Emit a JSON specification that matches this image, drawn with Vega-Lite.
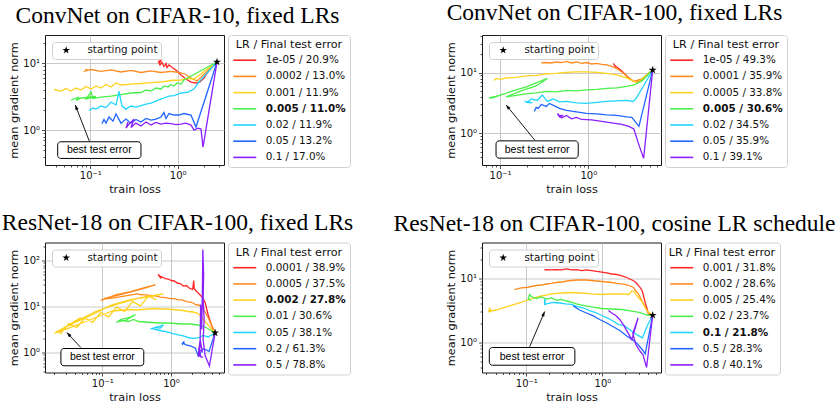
{
"$schema": "https://vega.github.io/schema/vega-lite/v6.json",
"background": "white",
"padding": {"left": 1, "top": 0, "right": 0, "bottom": 0},
"datasets": {
"p1": [
{"s":0,"x":2.82,"y":10.46},{"s":0,"x":2.54,"y":9.11},{"s":0,"x":2.22,"y":7.40},{"s":0,"x":2.00,"y":6.02},{"s":0,"x":1.80,"y":5.24},{"s":0,"x":1.62,"y":5.07},{"s":0,"x":1.42,"y":5.24},{"s":0,"x":1.245,"y":5.82},{"s":0,"x":1.091,"y":6.68},{"s":0,"x":0.982,"y":7.67},{"s":0,"x":0.884,"y":8.50},{"s":0,"x":0.838,"y":8.95},{"s":0,"x":0.795,"y":9.43},{"s":0,"x":0.754,"y":8.65},{"s":0,"x":0.735,"y":9.93},{"s":0,"x":0.697,"y":8.95},{"s":0,"x":0.661,"y":10.28},{"s":0,"x":0.627,"y":9.43},{"s":0,"x":0.603,"y":10.64},{"s":0,"x":0.644,"y":11.0},{"s":0,"x":0.62,"y":10.1},
{"s":1,"x":2.82,"y":10.46},{"s":1,"x":1.66,"y":5.43},{"s":1,"x":1.42,"y":6.02},{"s":1,"x":1.21,"y":6.91},{"s":1,"x":1.035,"y":7.28},{"s":1,"x":0.838,"y":7.54},{"s":1,"x":0.644,"y":7.28},{"s":1,"x":0.495,"y":7.67},{"s":1,"x":0.380,"y":7.28},{"s":1,"x":0.292,"y":7.80},{"s":1,"x":0.2245,"y":7.40},{"s":1,"x":0.1725,"y":7.94},{"s":1,"x":0.1326,"y":7.54},{"s":1,"x":0.1019,"y":8.07},{"s":1,"x":0.087,"y":7.67},{"s":1,"x":0.0917,"y":8.21},
{"s":2,"x":2.82,"y":10.46},{"s":2,"x":1.54,"y":5.82},{"s":2,"x":1.31,"y":5.92},{"s":2,"x":1.091,"y":5.62},{"s":2,"x":0.838,"y":5.52},{"s":2,"x":0.644,"y":5.24},{"s":2,"x":0.495,"y":5.15},{"s":2,"x":0.380,"y":4.98},{"s":2,"x":0.292,"y":4.89},{"s":2,"x":0.2245,"y":4.73},{"s":2,"x":0.1968,"y":5.07},{"s":2,"x":0.1725,"y":4.41},{"s":2,"x":0.1512,"y":4.81},{"s":2,"x":0.1326,"y":4.26},{"s":2,"x":0.1162,"y":4.57},{"s":2,"x":0.1019,"y":4.12},{"s":2,"x":0.0893,"y":4.49},{"s":2,"x":0.0782,"y":3.98},{"s":2,"x":0.0686,"y":4.26},{"s":2,"x":0.0601,"y":3.84},{"s":2,"x":0.0527,"y":4.19},{"s":2,"x":0.0462,"y":3.84},{"s":2,"x":0.0405,"y":3.98},{"s":2,"x":0.0384,"y":4.05},
{"s":3,"x":2.82,"y":10.46},{"s":3,"x":1.18,"y":5.62},{"s":3,"x":1.091,"y":4.89},{"s":3,"x":0.982,"y":5.07},{"s":3,"x":0.907,"y":4.57},{"s":3,"x":0.838,"y":4.81},{"s":3,"x":0.774,"y":4.41},{"s":3,"x":0.697,"y":4.57},{"s":3,"x":0.644,"y":4.12},{"s":3,"x":0.5646,"y":4.26},{"s":3,"x":0.495,"y":3.84},{"s":3,"x":0.434,"y":3.98},{"s":3,"x":0.380,"y":3.65},{"s":3,"x":0.292,"y":3.59},{"s":3,"x":0.2245,"y":3.40},{"s":3,"x":0.1725,"y":3.23},{"s":3,"x":0.1326,"y":3.12},{"s":3,"x":0.107,"y":2.96},{"s":3,"x":0.1019,"y":3.71},{"s":3,"x":0.0893,"y":2.92},{"s":3,"x":0.1162,"y":3.18},{"s":3,"x":0.0782,"y":3.02},{"s":3,"x":0.0686,"y":2.77},{"s":3,"x":0.0743,"y":3.12},{"s":3,"x":0.0601,"y":2.82},
{"s":4,"x":2.82,"y":10.46},{"s":4,"x":1.75,"y":5.24},{"s":4,"x":1.54,"y":4.12},{"s":4,"x":1.31,"y":3.71},{"s":4,"x":1.091,"y":3.59},{"s":4,"x":1.008,"y":3.46},{"s":4,"x":0.907,"y":3.29},{"s":4,"x":0.795,"y":3.23},{"s":4,"x":0.697,"y":3.02},{"s":4,"x":0.644,"y":2.92},{"s":4,"x":0.5646,"y":2.72},{"s":4,"x":0.495,"y":2.54},{"s":4,"x":0.434,"y":2.45},{"s":4,"x":0.380,"y":2.33},{"s":4,"x":0.333,"y":2.21},{"s":4,"x":0.292,"y":2.29},{"s":4,"x":0.2561,"y":2.06},{"s":4,"x":0.2307,"y":2.29},{"s":4,"x":0.2130,"y":3.78},{"s":4,"x":0.1968,"y":2.37},{"s":4,"x":0.1725,"y":2.63},{"s":4,"x":0.1512,"y":2.17},{"s":4,"x":0.1326,"y":2.29},{"s":4,"x":0.1162,"y":2.06},{"s":4,"x":0.107,"y":2.14},{"s":4,"x":0.0966,"y":1.96},
{"s":5,"x":2.82,"y":10.46},{"s":5,"x":1.62,"y":1.11},{"s":5,"x":1.42,"y":1.68},{"s":5,"x":1.18,"y":1.77},{"s":5,"x":1.035,"y":1.68},{"s":5,"x":0.907,"y":1.68},{"s":5,"x":0.795,"y":1.77},{"s":5,"x":0.735,"y":1.49},{"s":5,"x":0.697,"y":1.83},{"s":5,"x":0.644,"y":1.57},{"s":5,"x":0.5646,"y":1.46},{"s":5,"x":0.495,"y":1.41},{"s":5,"x":0.434,"y":1.49},{"s":5,"x":0.380,"y":1.32},{"s":5,"x":0.333,"y":1.44},{"s":5,"x":0.292,"y":1.27},{"s":5,"x":0.2561,"y":1.46},{"s":5,"x":0.2245,"y":1.27},{"s":5,"x":0.1968,"y":1.74},{"s":5,"x":0.182,"y":1.36},{"s":5,"x":0.1637,"y":1.57},{"s":5,"x":0.1512,"y":1.27},{"s":5,"x":0.1435,"y":1.44},{"s":5,"x":0.136,"y":1.25},
{"s":6,"x":2.82,"y":10.46},{"s":6,"x":1.95,"y":0.556},{"s":6,"x":1.848,"y":1.035},{"s":6,"x":1.71,"y":1.07},{"s":6,"x":1.54,"y":1.0},{"s":6,"x":1.42,"y":1.19},{"s":6,"x":1.245,"y":1.27},{"s":6,"x":1.091,"y":1.23},{"s":6,"x":0.956,"y":1.21},{"s":6,"x":0.838,"y":1.25},{"s":6,"x":0.735,"y":1.27},{"s":6,"x":0.644,"y":1.23},{"s":6,"x":0.5646,"y":1.30},{"s":6,"x":0.495,"y":1.19},{"s":6,"x":0.434,"y":1.32},{"s":6,"x":0.380,"y":1.15},{"s":6,"x":0.333,"y":1.27},{"s":6,"x":0.292,"y":1.09},{"s":6,"x":0.316,"y":1.46},{"s":6,"x":0.277,"y":1.23},{"s":6,"x":0.2561,"y":1.07},{"s":6,"x":0.27,"y":1.32}
],
"p2": [
{"s":0,"x":5.37,"y":11.08},{"s":0,"x":4.62,"y":9.17},{"s":0,"x":4.05,"y":7.58},{"s":0,"x":3.65,"y":7.03},{"s":0,"x":3.29,"y":7.16},{"s":0,"x":2.96,"y":7.87},{"s":0,"x":2.66,"y":9.17},{"s":0,"x":2.40,"y":10.67},{"s":0,"x":2.22,"y":11.7},{"s":0,"x":2.10,"y":12.4},{"s":0,"x":1.995,"y":13.1},{"s":0,"x":2.05,"y":12.2},{"s":0,"x":1.94,"y":13.9},{"s":0,"x":2.02,"y":12.65},{"s":0,"x":1.92,"y":14.2},
{"s":1,"x":5.37,"y":11.08},{"s":1,"x":4.05,"y":7.87},{"s":1,"x":3.29,"y":7.16},{"s":1,"x":2.82,"y":8.49},{"s":1,"x":2.40,"y":10.27},{"s":1,"x":2.10,"y":11.7},{"s":1,"x":1.844,"y":12.65},{"s":1,"x":1.617,"y":13.4},{"s":1,"x":1.418,"y":13.65},{"s":1,"x":1.243,"y":14.2},{"s":1,"x":1.09,"y":13.9},{"s":1,"x":0.956,"y":14.7},{"s":1,"x":0.839,"y":14.2},{"s":1,"x":0.736,"y":15.0},{"s":1,"x":0.645,"y":14.45},{"s":1,"x":0.566,"y":15.3},{"s":1,"x":0.496,"y":14.7},{"s":1,"x":0.435,"y":15.0},{"s":1,"x":0.382,"y":14.45},{"s":1,"x":0.335,"y":14.7},{"s":1,"x":0.293,"y":14.45},
{"s":2,"x":5.37,"y":11.08},{"s":2,"x":3.65,"y":6.90},{"s":2,"x":3.20,"y":7.30},{"s":2,"x":2.734,"y":8.18},{"s":2,"x":2.10,"y":9.17},{"s":2,"x":1.617,"y":9.70},{"s":2,"x":1.243,"y":10.08},{"s":2,"x":0.956,"y":10.27},{"s":2,"x":0.736,"y":10.27},{"s":2,"x":0.566,"y":10.08},{"s":2,"x":0.435,"y":9.70},{"s":2,"x":0.335,"y":9.52},{"s":2,"x":0.257,"y":8.99},{"s":2,"x":0.198,"y":8.82},{"s":2,"x":0.152,"y":8.34},{"s":2,"x":0.117,"y":8.18},{"s":2,"x":0.1026,"y":7.73},{"s":2,"x":0.09,"y":8.03},{"s":2,"x":0.0855,"y":7.44},
{"s":3,"x":5.37,"y":11.08},{"s":3,"x":4.05,"y":7.30},{"s":3,"x":3.29,"y":6.27},{"s":3,"x":2.734,"y":5.93},{"s":3,"x":2.10,"y":5.60},{"s":3,"x":1.617,"y":5.49},{"s":3,"x":1.243,"y":5.29},{"s":3,"x":0.956,"y":5.19},{"s":3,"x":0.736,"y":4.99},{"s":3,"x":0.566,"y":5.09},{"s":3,"x":0.435,"y":4.81},{"s":3,"x":0.335,"y":4.90},{"s":3,"x":0.257,"y":4.63},{"s":3,"x":0.198,"y":4.46},{"s":3,"x":0.152,"y":4.21},{"s":3,"x":0.117,"y":3.98},{"s":3,"x":0.1736,"y":4.99},{"s":3,"x":0.257,"y":6.04},{"s":3,"x":0.3435,"y":8.03},{"s":3,"x":0.293,"y":7.30},{"s":3,"x":0.198,"y":5.81},{"s":3,"x":0.1335,"y":4.90},{"s":3,"x":0.1026,"y":4.29},{"s":3,"x":0.0789,"y":3.76},{"s":3,"x":0.0948,"y":4.13},{"s":3,"x":0.0749,"y":3.83},
{"s":4,"x":5.37,"y":11.08},{"s":4,"x":4.16,"y":5.81},{"s":4,"x":3.46,"y":3.69},{"s":4,"x":3.20,"y":3.35},{"s":4,"x":2.734,"y":3.48},{"s":4,"x":2.10,"y":3.42},{"s":4,"x":1.617,"y":3.35},{"s":4,"x":1.243,"y":3.23},{"s":4,"x":0.956,"y":3.11},{"s":4,"x":0.736,"y":3.17},{"s":4,"x":0.566,"y":3.35},{"s":4,"x":0.471,"y":3.29},{"s":4,"x":0.402,"y":3.69},{"s":4,"x":0.343,"y":3.35},{"s":4,"x":0.301,"y":4.29},{"s":4,"x":0.264,"y":3.48},{"s":4,"x":0.226,"y":3.69},{"s":4,"x":0.203,"y":3.23},{"s":4,"x":0.232,"y":3.17},{"s":4,"x":0.190,"y":3.35},
{"s":5,"x":5.37,"y":11.08},{"s":5,"x":3.75,"y":1.30},{"s":5,"x":3.117,"y":1.83},{"s":5,"x":2.734,"y":1.86},{"s":5,"x":2.10,"y":1.97},{"s":5,"x":1.617,"y":2.01},{"s":5,"x":1.243,"y":2.09},{"s":5,"x":0.956,"y":2.13},{"s":5,"x":0.736,"y":2.25},{"s":5,"x":0.566,"y":2.38},{"s":5,"x":0.471,"y":2.57},{"s":5,"x":0.413,"y":2.83},{"s":5,"x":0.362,"y":3.11},{"s":5,"x":0.335,"y":2.77},{"s":5,"x":0.293,"y":2.99},{"s":5,"x":0.271,"y":2.57},{"s":5,"x":0.257,"y":2.67},{"s":5,"x":0.244,"y":2.30},
{"s":6,"x":5.37,"y":11.08},{"s":6,"x":4.24,"y":0.386},{"s":6,"x":3.65,"y":0.722},{"s":6,"x":3.29,"y":1.18},{"s":6,"x":2.88,"y":1.30},{"s":6,"x":2.40,"y":1.40},{"s":6,"x":1.844,"y":1.48},{"s":6,"x":1.418,"y":1.57},{"s":6,"x":1.09,"y":1.66},{"s":6,"x":0.839,"y":1.69},{"s":6,"x":0.736,"y":1.83},{"s":6,"x":0.645,"y":1.73},{"s":6,"x":0.566,"y":1.97},{"s":6,"x":0.496,"y":1.79},{"s":6,"x":0.447,"y":2.13},{"s":6,"x":0.471,"y":1.86},{"s":6,"x":0.52,"y":1.97},{"s":6,"x":0.46,"y":1.93}
],
"p3": [
{"s":0,"x":4.39,"y":2.72},{"s":0,"x":3.90,"y":3.92},{"s":0,"x":3.47,"y":6.80},{"s":0,"x":3.14,"y":12.4},{"s":0,"x":2.84,"y":16.3},{"s":0,"x":2.57,"y":19.0},{"s":0,"x":2.33,"y":22.1},{"s":0,"x":2.18,"y":25.0},{"s":0,"x":2.14,"y":37.3},{"s":0,"x":2.07,"y":23.8},{"s":0,"x":1.84,"y":25.6},{"s":0,"x":1.67,"y":29.0},{"s":0,"x":1.51,"y":28.3},{"s":0,"x":1.364,"y":32.1},{"s":0,"x":1.234,"y":32.9},{"s":0,"x":1.116,"y":36.4},{"s":0,"x":1.01,"y":37.3},{"s":0,"x":0.914,"y":40.2},{"s":0,"x":0.827,"y":41.2},{"s":0,"x":0.748,"y":44.4},{"s":0,"x":0.700,"y":45.6},{"s":0,"x":0.654,"y":49.1},{"s":0,"x":0.723,"y":41.2},{"s":0,"x":0.677,"y":47.9},{"s":0,"x":0.644,"y":50.4},
{"s":1,"x":4.39,"y":2.72},{"s":1,"x":3.47,"y":5.85},{"s":1,"x":2.99,"y":8.74},{"s":1,"x":2.75,"y":9.90},{"s":1,"x":2.49,"y":11.2},{"s":1,"x":2.33,"y":10.9},{"s":1,"x":2.10,"y":12.1},{"s":1,"x":1.905,"y":12.7},{"s":1,"x":1.67,"y":13.0},{"s":1,"x":1.46,"y":14.1},{"s":1,"x":1.28,"y":14.1},{"s":1,"x":1.116,"y":15.1},{"s":1,"x":0.977,"y":15.1},{"s":1,"x":0.827,"y":15.9},{"s":1,"x":0.700,"y":16.3},{"s":1,"x":0.592,"y":17.2},{"s":1,"x":0.501,"y":17.6},{"s":1,"x":0.424,"y":18.1},{"s":1,"x":0.359,"y":18.5},{"s":1,"x":0.3215,"y":19.0},{"s":1,"x":0.2176,"y":17.2},{"s":1,"x":0.1559,"y":15.9},{"s":1,"x":0.1116,"y":14.8},{"s":1,"x":0.100,"y":14.1},{"s":1,"x":0.1559,"y":18.1},{"s":1,"x":0.2571,"y":21.5},{"s":1,"x":0.4242,"y":26.3},{"s":1,"x":0.5922,"y":30.1},{"s":1,"x":0.359,"y":23.8},{"s":1,"x":0.1842,"y":18.5},{"s":1,"x":0.1116,"y":15.5},{"s":1,"x":0.0945,"y":13.7},
{"s":2,"x":4.39,"y":2.72},{"s":2,"x":3.14,"y":4.79},{"s":2,"x":2.75,"y":6.15},{"s":2,"x":2.41,"y":7.33},{"s":2,"x":2.10,"y":7.71},{"s":2,"x":1.78,"y":7.90},{"s":2,"x":1.51,"y":8.31},{"s":2,"x":1.28,"y":8.52},{"s":2,"x":1.044,"y":8.74},{"s":2,"x":0.855,"y":8.96},{"s":2,"x":0.700,"y":8.96},{"s":2,"x":0.573,"y":9.19},{"s":2,"x":0.469,"y":8.96},{"s":2,"x":0.384,"y":8.74},{"s":2,"x":0.314,"y":8.52},{"s":2,"x":0.257,"y":8.74},{"s":2,"x":0.210,"y":8.52},{"s":2,"x":0.172,"y":8.31},{"s":2,"x":0.141,"y":8.10},{"s":2,"x":0.0945,"y":6.47},{"s":2,"x":0.0573,"y":4.79},{"s":2,"x":0.0347,"y":3.55},{"s":2,"x":0.0211,"y":2.76},{"s":2,"x":0.0199,"y":2.63},{"s":2,"x":0.0347,"y":4.12},{"s":2,"x":0.0677,"y":6.47},{"s":2,"x":0.1319,"y":10.7},{"s":2,"x":0.2571,"y":14.4},{"s":2,"x":0.501,"y":16.7},{"s":2,"x":0.773,"y":19.0},{"s":2,"x":0.359,"y":15.9},{"s":2,"x":0.1559,"y":11.2},{"s":2,"x":0.0799,"y":7.90},{"s":2,"x":0.041,"y":4.79},{"s":2,"x":0.0249,"y":3.21},{"s":2,"x":0.0485,"y":5.85},{"s":2,"x":0.0294,"y":3.64},{"s":2,"x":0.0218,"y":2.90},{"s":2,"x":0.0249,"y":2.65},{"s":2,"x":0.0325,"y":4.34},{"s":2,"x":0.0424,"y":3.50},{"s":2,"x":0.0554,"y":5.68},{"s":2,"x":0.0723,"y":4.60},{"s":2,"x":0.0945,"y":7.48},{"s":2,"x":0.1234,"y":6.06},{"s":2,"x":0.1611,"y":9.85},{"s":2,"x":0.2104,"y":7.98},{"s":2,"x":0.2749,"y":13.0},{"s":2,"x":0.359,"y":10.5},{"s":2,"x":0.469,"y":17.1},{"s":2,"x":0.612,"y":14.1},
{"s":3,"x":4.39,"y":2.72},{"s":3,"x":3.14,"y":3.64},{"s":3,"x":2.49,"y":4.02},{"s":3,"x":1.905,"y":4.23},{"s":3,"x":1.46,"y":4.23},{"s":3,"x":1.154,"y":4.34},{"s":3,"x":0.914,"y":4.45},{"s":3,"x":0.700,"y":4.45},{"s":3,"x":0.536,"y":4.56},{"s":3,"x":0.424,"y":4.67},{"s":3,"x":0.336,"y":4.79},{"s":3,"x":0.284,"y":5.30},{"s":3,"x":0.241,"y":4.79},{"s":3,"x":0.197,"y":5.04},{"s":3,"x":0.161,"y":4.56},{"s":3,"x":0.1842,"y":5.30},{"s":3,"x":0.233,"y":5.71},{"s":3,"x":0.284,"y":6.47},{"s":3,"x":0.3039,"y":6.70},{"s":3,"x":0.257,"y":5.85},{"s":3,"x":0.2176,"y":5.04},{"s":3,"x":0.172,"y":4.79},{"s":3,"x":0.161,"y":4.67},
{"s":4,"x":4.39,"y":2.72},{"s":4,"x":3.47,"y":2.21},{"s":4,"x":2.94,"y":2.38},{"s":4,"x":2.49,"y":2.10},{"s":4,"x":2.10,"y":2.05},{"s":4,"x":1.78,"y":2.15},{"s":4,"x":1.51,"y":2.32},{"s":4,"x":1.28,"y":2.44},{"s":4,"x":1.044,"y":2.63},{"s":4,"x":0.855,"y":2.90},{"s":4,"x":0.748,"y":2.98},{"s":4,"x":0.654,"y":3.13},{"s":4,"x":0.592,"y":3.21},{"s":4,"x":0.536,"y":3.38},{"s":4,"x":0.654,"y":3.73},{"s":4,"x":0.773,"y":4.02},{"s":4,"x":0.700,"y":3.46},{"s":4,"x":0.592,"y":3.55},{"s":4,"x":0.501,"y":3.29},
{"s":5,"x":4.39,"y":2.72},{"s":5,"x":3.59,"y":1.07},{"s":5,"x":2.94,"y":1.24},{"s":5,"x":2.51,"y":0.852},{"s":5,"x":2.25,"y":1.27},{"s":5,"x":1.905,"y":1.41},{"s":5,"x":1.612,"y":1.51},{"s":5,"x":1.51,"y":1.67},{"s":5,"x":1.44,"y":1.55},{"s":5,"x":1.56,"y":1.76},{"s":5,"x":1.46,"y":1.48},
{"s":6,"x":4.39,"y":2.72},{"s":6,"x":3.63,"y":0.516},{"s":6,"x":3.14,"y":0.874},{"s":6,"x":2.94,"y":1.95},{"s":6,"x":3.04,"y":5.30},{"s":6,"x":2.94,"y":14.4},{"s":6,"x":2.99,"y":50.4},{"s":6,"x":2.91,"y":176},{"s":6,"x":2.87,"y":23.8},{"s":6,"x":2.80,"y":3.21},{"s":6,"x":2.70,"y":11.2},{"s":6,"x":2.66,"y":1.51},{"s":6,"x":2.57,"y":0.918},{"s":6,"x":2.75,"y":0.791},{"s":6,"x":2.53,"y":1.18},{"s":6,"x":2.84,"y":1.07},{"s":6,"x":2.66,"y":1.95},{"s":6,"x":2.49,"y":0.874},{"s":6,"x":2.94,"y":0.791}
],
"p4": [
{"s":0,"x":4.58,"y":2.67},{"s":0,"x":4.05,"y":2.77},{"s":0,"x":3.65,"y":4.22},{"s":0,"x":3.36,"y":6.27},{"s":0,"x":3.14,"y":7.23},{"s":0,"x":2.80,"y":8.51},{"s":0,"x":2.57,"y":9.21},{"s":0,"x":2.29,"y":9.82},{"s":0,"x":2.094,"y":10.37},{"s":0,"x":1.799,"y":10.94},{"s":0,"x":1.545,"y":11.55},{"s":0,"x":1.327,"y":11.76},{"s":0,"x":1.14,"y":12.2},{"s":0,"x":0.979,"y":12.6},{"s":0,"x":0.841,"y":12.9},{"s":0,"x":0.722,"y":13.3},{"s":0,"x":0.620,"y":13.6},{"s":0,"x":0.533,"y":13.3},{"s":0,"x":0.4575,"y":13.8},{"s":0,"x":0.393,"y":13.6},{"s":0,"x":0.3376,"y":14.1},{"s":0,"x":0.290,"y":13.6},{"s":0,"x":0.249,"y":13.8},{"s":0,"x":0.214,"y":13.6},{"s":0,"x":0.1837,"y":13.8},{"s":0,"x":0.173,"y":13.6},
{"s":1,"x":4.58,"y":2.67},{"s":1,"x":4.05,"y":2.84},{"s":1,"x":3.48,"y":3.97},{"s":1,"x":2.99,"y":5.68},{"s":1,"x":2.67,"y":6.73},{"s":1,"x":2.57,"y":7.23},{"s":1,"x":2.16,"y":7.91},{"s":1,"x":1.89,"y":8.15},{"s":1,"x":1.545,"y":8.36},{"s":1,"x":1.327,"y":8.66},{"s":1,"x":1.14,"y":8.81},{"s":1,"x":0.979,"y":8.98},{"s":1,"x":0.841,"y":9.14},{"s":1,"x":0.722,"y":9.31},{"s":1,"x":0.620,"y":9.48},{"s":1,"x":0.533,"y":9.48},{"s":1,"x":0.4575,"y":9.48},{"s":1,"x":0.393,"y":9.31},{"s":1,"x":0.3376,"y":9.14},{"s":1,"x":0.290,"y":8.81},{"s":1,"x":0.249,"y":8.66},{"s":1,"x":0.214,"y":8.36},{"s":1,"x":0.1837,"y":8.20},{"s":1,"x":0.1578,"y":7.91},{"s":1,"x":0.1355,"y":7.77},{"s":1,"x":0.1164,"y":7.50},{"s":1,"x":0.100,"y":7.23},{"s":1,"x":0.0859,"y":7.11},{"s":1,"x":0.0738,"y":6.85},{"s":1,"x":0.070,"y":6.73},
{"s":2,"x":4.58,"y":2.67},{"s":2,"x":3.85,"y":3.13},{"s":2,"x":3.305,"y":4.37},{"s":2,"x":2.839,"y":5.37},{"s":2,"x":2.63,"y":6.15},{"s":2,"x":2.438,"y":6.43},{"s":2,"x":2.23,"y":5.62},{"s":2,"x":1.799,"y":5.73},{"s":2,"x":1.327,"y":5.73},{"s":2,"x":0.979,"y":5.62},{"s":2,"x":0.722,"y":5.73},{"s":2,"x":0.533,"y":5.93},{"s":2,"x":0.393,"y":6.04},{"s":2,"x":0.290,"y":5.93},{"s":2,"x":0.214,"y":5.73},{"s":2,"x":0.1837,"y":5.52},{"s":2,"x":0.1578,"y":5.33},{"s":2,"x":0.1355,"y":5.05},{"s":2,"x":0.1164,"y":4.79},{"s":2,"x":0.100,"y":4.53},{"s":2,"x":0.0859,"y":4.22},{"s":2,"x":0.0738,"y":4.00},{"s":2,"x":0.0634,"y":3.79},{"s":2,"x":0.0544,"y":3.59},{"s":2,"x":0.0468,"y":3.40},{"s":2,"x":0.0402,"y":3.22},{"s":2,"x":0.0345,"y":3.10},{"s":2,"x":0.033,"y":3.40},{"s":2,"x":0.032,"y":3.00},{"s":2,"x":0.0345,"y":3.28},{"s":2,"x":0.0334,"y":2.94},
{"s":3,"x":4.58,"y":2.67},{"s":3,"x":3.848,"y":2.69},{"s":3,"x":3.14,"y":2.94},{"s":3,"x":2.438,"y":3.10},{"s":3,"x":1.799,"y":3.28},{"s":3,"x":1.327,"y":3.34},{"s":3,"x":0.979,"y":3.40},{"s":3,"x":0.722,"y":3.59},{"s":3,"x":0.533,"y":3.85},{"s":3,"x":0.4575,"y":4.00},{"s":3,"x":0.393,"y":4.29},{"s":3,"x":0.3376,"y":4.45},{"s":3,"x":0.290,"y":4.70},{"s":3,"x":0.249,"y":4.61},{"s":3,"x":0.214,"y":4.96},{"s":3,"x":0.1837,"y":4.78},{"s":3,"x":0.1578,"y":5.14},{"s":3,"x":0.1355,"y":4.87},{"s":3,"x":0.1164,"y":5.23},{"s":3,"x":0.1106,"y":5.62},{"s":3,"x":0.106,"y":4.79},{"s":3,"x":0.1164,"y":4.53},
{"s":4,"x":4.58,"y":2.67},{"s":4,"x":3.848,"y":1.78},{"s":4,"x":3.36,"y":1.18},{"s":4,"x":2.93,"y":1.29},{"s":4,"x":2.57,"y":1.43},{"s":4,"x":2.23,"y":1.62},{"s":4,"x":1.91,"y":1.85},{"s":4,"x":1.64,"y":1.91},{"s":4,"x":1.41,"y":2.13},{"s":4,"x":1.175,"y":2.41},{"s":4,"x":0.979,"y":2.64},{"s":4,"x":0.816,"y":2.94},{"s":4,"x":0.680,"y":3.16},{"s":4,"x":0.566,"y":3.46},{"s":4,"x":0.472,"y":3.65},{"s":4,"x":0.393,"y":3.93},{"s":4,"x":0.327,"y":4.00},{"s":4,"x":0.273,"y":4.14},{"s":4,"x":0.227,"y":4.22},{"s":4,"x":0.189,"y":4.06},{"s":4,"x":0.1745,"y":3.93},{"s":4,"x":0.1745,"y":4.78},{"s":4,"x":0.178,"y":4.22},
{"s":5,"x":4.58,"y":2.67},{"s":5,"x":3.65,"y":0.661},{"s":5,"x":3.41,"y":0.75},{"s":5,"x":2.93,"y":0.931},{"s":5,"x":2.57,"y":1.07},{"s":5,"x":2.094,"y":1.26},{"s":5,"x":1.69,"y":1.54},{"s":5,"x":1.41,"y":1.75},{"s":5,"x":1.14,"y":2.02},{"s":5,"x":0.921,"y":2.29},{"s":5,"x":0.760,"y":2.61},{"s":5,"x":0.620,"y":2.89},{"s":5,"x":0.501,"y":3.22},{"s":5,"x":0.414,"y":3.74},
{"s":6,"x":4.58,"y":2.67},{"s":6,"x":3.81,"y":0.407},{"s":6,"x":3.41,"y":0.649},{"s":6,"x":3.11,"y":0.736},{"s":6,"x":2.75,"y":0.931},{"s":6,"x":2.51,"y":1.38},{"s":6,"x":2.95,"y":2.43},{"s":6,"x":2.438,"y":1.11},{"s":6,"x":2.16,"y":1.43},{"s":6,"x":1.91,"y":1.85},{"s":6,"x":1.69,"y":2.29},{"s":6,"x":1.50,"y":2.64},{"s":6,"x":1.327,"y":2.89},{"s":6,"x":1.20,"y":3.16}
]
},
"config": {
"view": {"stroke": "#1a1a1a", "strokeWidth": 1},
"font": "DejaVu Sans",
"axis": {"domain": false, "labelFont": "DejaVu Sans", "labelFontSize": 10, "labelColor": "#111", "titleFont": "DejaVu Sans", "titleFontSize": 11.3, "titleFontWeight": "normal", "titleColor": "#111", "tickColor": "#222", "tickWidth": 0.8, "gridColor": "#bdbdbd", "gridWidth": 0.8, "labelOverlap": false, "labelBound": false, "labelFlush": false, "labelPadding": 2, "titlePadding": 3,
 "tickSize": {"condition": {"test": "abs(log(datum.value)/LN10 - round(log(datum.value)/LN10)) < 0.01", "value": 3.5}, "value": 2},
 "gridOpacity": {"condition": {"test": "abs(log(datum.value)/LN10 - round(log(datum.value)/LN10)) < 0.01", "value": 1}, "value": 0},
 "labelExpr": "abs(log(datum.value)/LN10 - round(log(datum.value)/LN10)) < 0.01 ? (round(log(datum.value)/LN10) < -0.5 ? '10⁻¹' : round(log(datum.value)/LN10) < 0.5 ? '10⁰' : round(log(datum.value)/LN10) < 1.5 ? '10¹' : '10²') : ''"},
"legend": {"titleFont": "DejaVu Sans", "titleFontSize": 11.2, "titleFontWeight": "normal", "titleColor": "#111", "labelFont": "DejaVu Sans", "labelFontSize": 10.4, "labelColor": "#111", "padding": 4, "strokeColor": "#d0d0d0", "fillColor": "white", "cornerRadius": 3, "rowPadding": 3.2, "titlePadding": 3, "labelOffset": 14},
"title": {"font": "Liberation Serif", "fontSize": 23.5, "fontWeight": "normal", "color": "black", "anchor": "middle", "frame": "group", "baseline": "top", "offset": 7}
},
"spacing": 14.5,
"resolve": {"scale": {"color": "independent", "shape": "independent"}, "legend": {"color": "independent", "shape": "independent"}},
"vconcat": [
{"hconcat": [
{"width": 179, "height": 130, "title": {"text": "ConvNet on CIFAR-10, fixed LRs", "dx": 43},
 "encoding": {
  "x": {"field": "x", "type": "quantitative", "scale": {"type": "log", "domain": [0.0303, 3.39], "nice": false}, "axis": {"title": "train loss", "values": [0.04,0.05,0.06,0.07,0.08,0.09,0.1,0.2,0.3,0.4,0.5,0.6,0.7,0.8,0.9,1,2,3]}},
  "y": {"field": "y", "type": "quantitative", "scale": {"type": "log", "domain": [0.3, 26.5], "nice": false}, "axis": {"title": "mean gradient norm", "values": [0.4,0.5,0.6,0.7,0.8,0.9,1,2,3,4,5,6,7,8,9,10,20]}}
 },
 "layer": [
  {"data": {"name": "p1"}, "mark": {"type": "line", "strokeWidth": 1.3, "clip": true},
   "encoding": {"order": {"value": null}, "color": {"field": "s", "type": "nominal", "scale": {"domain": [0,1,2,3,4,5,6], "range": ["#ff2626","#ff8b1f","#ffd21f","#4af04a","#1fd5ff","#2166ff","#8a1fff"]},
    "legend": {"title": "LR / Final test error", "orient": "right", "offset": 4, "symbolType": "M-2,0L2,0", "symbolSize": 132, "symbolOffset": 5.75, "symbolStrokeWidth": 1.6, "titleAnchor": "middle",
     "labelExpr": "['1e-05 / 20.9%','0.0002 / 13.0%','0.001 / 11.9%','0.005 / 11.0%','0.02 / 11.9%','0.05 / 13.2%','0.1 / 17.0%'][datum.value]",
     "encode": {"labels": {"update": {"fontWeight": {"signal": "datum.value === 3 ? 'bold' : 'normal'"}}}}}}}},
  {"data": {"values": [{"x": 2.82, "y": 10.46, "k": "starting point"}]}, "mark": {"type": "point", "filled": true, "color": "black", "size": 70, "opacity": 1},
   "encoding": {"shape": {"field": "k", "type": "nominal", "scale": {"domain": ["starting point"], "range": ["M0,-1L0.2245,-0.309L0.951,-0.309L0.363,0.118L0.588,0.809L0,0.382L-0.588,0.809L-0.363,0.118L-0.951,-0.309L-0.2245,-0.309Z"]},
    "legend": {"title": null, "orient": "top-left", "offset": 7, "padding": 3, "symbolSize": 64, "symbolOffset": 6, "labelOffset": 16, "symbolFillColor": "black", "symbolStrokeColor": "black", "symbolStrokeWidth": 0}}}},
  {"data": {"values": [{"x": 0.0423, "y": 0.668, "x2": 0.380, "y2": 0.376}]}, "mark": {"type": "rect", "fill": "white", "stroke": "black", "strokeWidth": 1, "cornerRadius": 3}, "encoding": {"x2": {"field": "x2"}, "y2": {"field": "y2"}}},
  {"data": {"values": [{"x": 0.1267, "y": 0.501, "t": "best test error"}]}, "mark": {"type": "text", "font": "Liberation Sans", "fontSize": 10.5, "color": "black", "align": "center", "baseline": "middle"}, "encoding": {"text": {"field": "t"}}},
  {"data": {"values": [{"x": 0.0974, "y": 0.684, "x2": 0.0673, "y2": 2.37}]}, "mark": {"type": "rule", "color": "black", "strokeWidth": 0.9}, "encoding": {"x2": {"field": "x2"}, "y2": {"field": "y2"}}},
  {"data": {"values": [{"x": 0.0673, "y": 2.37}]}, "mark": {"type": "point", "shape": "M0,0L0.6,1.8L-0.6,1.8Z", "angle": 339, "filled": true, "color": "black", "size": 30, "opacity": 1}, "encoding": {}}
 ]},
{"width": 179, "height": 130, "title": {"text": "ConvNet on CIFAR-100, fixed LRs", "dx": 43},
 "encoding": {
  "x": {"field": "x", "type": "quantitative", "scale": {"type": "log", "domain": [0.0624, 6.67], "nice": false}, "axis": {"title": "train loss", "values": [0.07,0.08,0.09,0.1,0.2,0.3,0.4,0.5,0.6,0.7,0.8,0.9,1,2,3,4,5,6]}},
  "y": {"field": "y", "type": "quantitative", "scale": {"type": "log", "domain": [0.3, 41.8], "nice": false}, "axis": {"title": "mean gradient norm", "values": [0.4,0.5,0.6,0.7,0.8,0.9,1,2,3,4,5,6,7,8,9,10,20,30,40]}}
 },
 "layer": [
  {"data": {"name": "p2"}, "mark": {"type": "line", "strokeWidth": 1.3, "clip": true},
   "encoding": {"order": {"value": null}, "color": {"field": "s", "type": "nominal", "scale": {"domain": [0,1,2,3,4,5,6], "range": ["#ff2626","#ff8b1f","#ffd21f","#4af04a","#1fd5ff","#2166ff","#8a1fff"]},
    "legend": {"title": "LR / Final test error", "orient": "right", "offset": 4, "symbolType": "M-2,0L2,0", "symbolSize": 132, "symbolOffset": 5.75, "symbolStrokeWidth": 1.6, "titleAnchor": "middle",
     "labelExpr": "['1e-05 / 49.3%','0.0001 / 35.9%','0.0005 / 33.8%','0.005 / 30.6%','0.02 / 34.5%','0.05 / 35.9%','0.1 / 39.1%'][datum.value]",
     "encode": {"labels": {"update": {"fontWeight": {"signal": "datum.value === 3 ? 'bold' : 'normal'"}}}}}}}},
  {"data": {"values": [{"x": 5.37, "y": 11.08, "k": "starting point"}]}, "mark": {"type": "point", "filled": true, "color": "black", "size": 70, "opacity": 1},
   "encoding": {"shape": {"field": "k", "type": "nominal", "scale": {"domain": ["starting point"], "range": ["M0,-1L0.2245,-0.309L0.951,-0.309L0.363,0.118L0.588,0.809L0,0.382L-0.588,0.809L-0.363,0.118L-0.951,-0.309L-0.2245,-0.309Z"]},
    "legend": {"title": null, "orient": "top-left", "offset": 7, "padding": 3, "symbolSize": 64, "symbolOffset": 6, "labelOffset": 16, "symbolFillColor": "black", "symbolStrokeColor": "black", "symbolStrokeWidth": 0}}}},
  {"data": {"values": [{"x": 0.0900, "y": 0.750, "x2": 0.769, "y2": 0.389}]}, "mark": {"type": "rect", "fill": "white", "stroke": "black", "strokeWidth": 1, "cornerRadius": 3}, "encoding": {"x2": {"field": "x2"}, "y2": {"field": "y2"}}},
  {"data": {"values": [{"x": 0.263, "y": 0.539, "t": "best test error"}]}, "mark": {"type": "text", "font": "Liberation Sans", "fontSize": 10.5, "color": "black", "align": "center", "baseline": "middle"}, "encoding": {"text": {"field": "t"}}},
  {"data": {"values": [{"x": 0.246, "y": 0.779, "x2": 0.117, "y2": 2.94}]}, "mark": {"type": "rule", "color": "black", "strokeWidth": 0.9}, "encoding": {"x2": {"field": "x2"}, "y2": {"field": "y2"}}},
  {"data": {"values": [{"x": 0.117, "y": 2.94}]}, "mark": {"type": "point", "shape": "M0,0L0.6,1.8L-0.6,1.8Z", "angle": 321, "filled": true, "color": "black", "size": 30, "opacity": 1}, "encoding": {}}
 ]}
], "spacing": 258, "bounds": "flush", "resolve": {"scale": {"color": "independent", "shape": "independent"}, "legend": {"color": "independent", "shape": "independent"}}},
{"hconcat": [
{"width": 179, "height": 130, "title": {"text": "ResNet-18 on CIFAR-100, fixed LRs", "dx": 43},
 "encoding": {
  "x": {"field": "x", "type": "quantitative", "scale": {"type": "log", "domain": [0.0146, 5.92], "nice": false}, "axis": {"title": "train loss", "values": [0.02,0.03,0.04,0.05,0.06,0.07,0.08,0.09,0.1,0.2,0.3,0.4,0.5,0.6,0.7,0.8,0.9,1,2,3,4,5]}},
  "y": {"field": "y", "type": "quantitative", "scale": {"type": "log", "domain": [0.373, 250], "nice": false}, "axis": {"title": "mean gradient norm", "values": [0.4,0.5,0.6,0.7,0.8,0.9,1,2,3,4,5,6,7,8,9,10,20,30,40,50,60,70,80,90,100,200]}}
 },
 "layer": [
  {"data": {"name": "p3"}, "mark": {"type": "line", "strokeWidth": 1.3, "clip": true},
   "encoding": {"order": {"value": null}, "color": {"field": "s", "type": "nominal", "scale": {"domain": [0,1,2,3,4,5,6], "range": ["#ff2626","#ff8b1f","#ffd21f","#4af04a","#1fd5ff","#2166ff","#8a1fff"]},
    "legend": {"title": "LR / Final test error", "orient": "right", "offset": 4, "symbolType": "M-2,0L2,0", "symbolSize": 132, "symbolOffset": 5.75, "symbolStrokeWidth": 1.6, "titleAnchor": "middle",
     "labelExpr": "['0.0001 / 38.9%','0.0005 / 37.5%','0.002 / 27.8%','0.01 / 30.6%','0.05 / 38.1%','0.2 / 61.3%','0.5 / 78.8%'][datum.value]",
     "encode": {"labels": {"update": {"fontWeight": {"signal": "datum.value === 2 ? 'bold' : 'normal'"}}}}}}}},
  {"data": {"values": [{"x": 4.39, "y": 2.72, "k": "starting point"}]}, "mark": {"type": "point", "filled": true, "color": "black", "size": 70, "opacity": 1},
   "encoding": {"shape": {"field": "k", "type": "nominal", "scale": {"domain": ["starting point"], "range": ["M0,-1L0.2245,-0.309L0.951,-0.309L0.363,0.118L0.588,0.809L0,0.382L-0.588,0.809L-0.363,0.118L-0.951,-0.309L-0.2245,-0.309Z"]},
    "legend": {"title": null, "orient": "top-left", "offset": 7, "padding": 3, "symbolSize": 64, "symbolOffset": 6, "labelOffset": 16, "symbolFillColor": "black", "symbolStrokeColor": "black", "symbolStrokeWidth": 0}}}},
  {"data": {"values": [{"x": 0.0249, "y": 1.24, "x2": 0.401, "y2": 0.522}]}, "mark": {"type": "rect", "fill": "white", "stroke": "black", "strokeWidth": 1, "cornerRadius": 3}, "encoding": {"x2": {"field": "x2"}, "y2": {"field": "y2"}}},
  {"data": {"values": [{"x": 0.100, "y": 0.802, "t": "best test error"}]}, "mark": {"type": "text", "font": "Liberation Sans", "fontSize": 10.5, "color": "black", "align": "center", "baseline": "middle"}, "encoding": {"text": {"field": "t"}}},
  {"data": {"values": [{"x": 0.0485, "y": 1.30, "x2": 0.0304, "y2": 2.76}]}, "mark": {"type": "rule", "color": "black", "strokeWidth": 0.9}, "encoding": {"x2": {"field": "x2"}, "y2": {"field": "y2"}}},
  {"data": {"values": [{"x": 0.0304, "y": 2.76}]}, "mark": {"type": "point", "shape": "M0,0L0.6,1.8L-0.6,1.8Z", "angle": 317, "filled": true, "color": "black", "size": 30, "opacity": 1}, "encoding": {}}
 ]},
{"width": 179, "height": 130, "title": {"text": "ResNet-18 on CIFAR-100, cosine LR schedule", "dx": 43},
 "encoding": {
  "x": {"field": "x", "type": "quantitative", "scale": {"type": "log", "domain": [0.0262, 5.89], "nice": false}, "axis": {"title": "train loss", "values": [0.03,0.04,0.05,0.06,0.07,0.08,0.09,0.1,0.2,0.3,0.4,0.5,0.6,0.7,0.8,0.9,1,2,3,4,5]}},
  "y": {"field": "y", "type": "quantitative", "scale": {"type": "log", "domain": [0.34, 36.5], "nice": false}, "axis": {"title": "mean gradient norm", "values": [0.4,0.5,0.6,0.7,0.8,0.9,1,2,3,4,5,6,7,8,9,10,20,30]}}
 },
 "layer": [
  {"data": {"name": "p4"}, "mark": {"type": "line", "strokeWidth": 1.3, "clip": true},
   "encoding": {"order": {"value": null}, "color": {"field": "s", "type": "nominal", "scale": {"domain": [0,1,2,3,4,5,6], "range": ["#ff2626","#ff8b1f","#ffd21f","#4af04a","#1fd5ff","#2166ff","#8a1fff"]},
    "legend": {"title": "LR / Final test error", "orient": "right", "offset": 4, "symbolType": "M-2,0L2,0", "symbolSize": 132, "symbolOffset": 5.75, "symbolStrokeWidth": 1.6, "titleAnchor": "middle",
     "labelExpr": "['0.001 / 31.8%','0.002 / 28.6%','0.005 / 25.4%','0.02 / 23.7%','0.1 / 21.8%','0.5 / 28.3%','0.8 / 40.1%'][datum.value]",
     "encode": {"labels": {"update": {"fontWeight": {"signal": "datum.value === 4 ? 'bold' : 'normal'"}}}}}}}},
  {"data": {"values": [{"x": 4.58, "y": 2.67, "k": "starting point"}]}, "mark": {"type": "point", "filled": true, "color": "black", "size": 70, "opacity": 1},
   "encoding": {"shape": {"field": "k", "type": "nominal", "scale": {"domain": ["starting point"], "range": ["M0,-1L0.2245,-0.309L0.951,-0.309L0.363,0.118L0.588,0.809L0,0.382L-0.588,0.809L-0.363,0.118L-0.951,-0.309L-0.2245,-0.309Z"]},
    "legend": {"title": null, "orient": "top-left", "offset": 7, "padding": 3, "symbolSize": 64, "symbolOffset": 6, "labelOffset": 16, "symbolFillColor": "black", "symbolStrokeColor": "black", "symbolStrokeWidth": 0}}}},
  {"data": {"values": [{"x": 0.0327, "y": 0.835, "x2": 0.435, "y2": 0.442}]}, "mark": {"type": "rect", "fill": "white", "stroke": "black", "strokeWidth": 1, "cornerRadius": 3}, "encoding": {"x2": {"field": "x2"}, "y2": {"field": "y2"}}},
  {"data": {"values": [{"x": 0.1193, "y": 0.604, "t": "best test error"}]}, "mark": {"type": "text", "font": "Liberation Sans", "fontSize": 10.5, "color": "black", "align": "center", "baseline": "middle"}, "encoding": {"text": {"field": "t"}}},
  {"data": {"values": [{"x": 0.1106, "y": 0.857, "x2": 0.1745, "y2": 3.05}]}, "mark": {"type": "rule", "color": "black", "strokeWidth": 0.9}, "encoding": {"x2": {"field": "x2"}, "y2": {"field": "y2"}}},
  {"data": {"values": [{"x": 0.1745, "y": 3.05}]}, "mark": {"type": "point", "shape": "M0,0L0.6,1.8L-0.6,1.8Z", "angle": 23, "filled": true, "color": "black", "size": 30, "opacity": 1}, "encoding": {}}
 ]}
], "spacing": 258, "bounds": "flush", "resolve": {"scale": {"color": "independent", "shape": "independent"}, "legend": {"color": "independent", "shape": "independent"}}}
]
}
